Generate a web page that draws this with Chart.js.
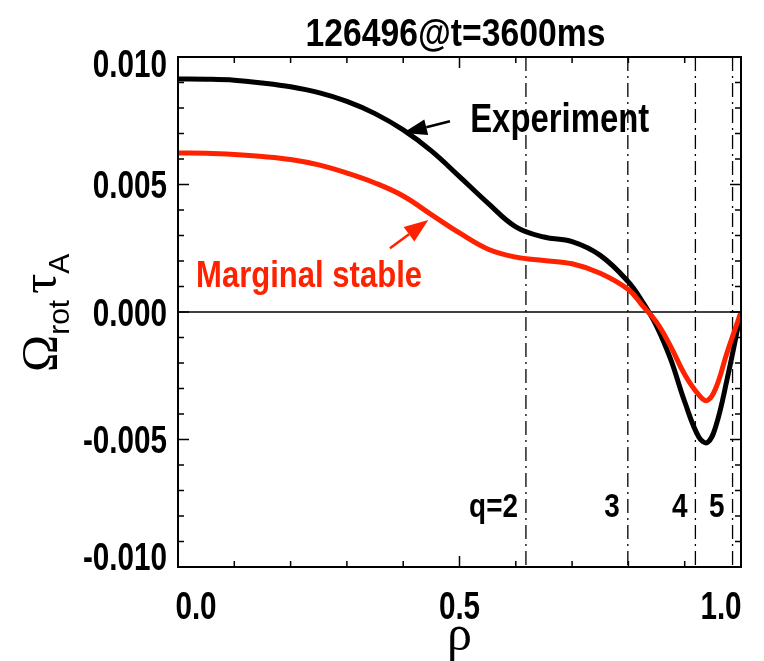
<!DOCTYPE html>
<html>
<head>
<meta charset="utf-8">
<script src="https://cdn.jsdelivr.net/npm/chart.js@4/dist/chart.umd.min.js"></script>
<style>
html,body{margin:0;padding:0;background:#fff;}
#wrap{width:764px;height:661px;position:relative;}
</style>
</head>
<body>
<div id="wrap"><canvas id="c" width="764" height="661"></canvas></div>
<script>
// ---- data ----
const rho = [0.00, 0.05, 0.10, 0.15, 0.20, 0.25, 0.30, 0.35, 0.40, 0.45, 0.50, 0.55, 0.60, 0.65, 0.70, 0.75, 0.80, 0.825, 0.85, 0.875, 0.90, 0.925, 0.94, 0.955, 0.975, 1.00];
const experiment = [0.00914, 0.00913, 0.00909, 0.00898, 0.00883, 0.00860, 0.00826, 0.00778, 0.00714, 0.00632, 0.00531, 0.00428, 0.00334, 0.00294, 0.00276, 0.00222, 0.00118, 0.00040, -0.00055, -0.00185, -0.00352, -0.00490, -0.00512, -0.00450, -0.00267, 0.00000];
const marginal = [0.00624, 0.00623, 0.00618, 0.00610, 0.00598, 0.00577, 0.00545, 0.00506, 0.00455, 0.00382, 0.00310, 0.00247, 0.00215, 0.00202, 0.00189, 0.00152, 0.00088, 0.00025, -0.00040, -0.00135, -0.00245, -0.00325, -0.00347, -0.00300, -0.00161, 0.00000];
const qRho = [0.618, 0.799, 0.919, 0.985];
const qLabels = ['q=2', '3', '4', '5'];
const yTicks = [-0.010, -0.005, 0.000, 0.005, 0.010];
const yTickLabels = ['-0.010', '-0.005', '0.000', '0.005', '0.010'];
const xTicks = [0.0, 0.5, 1.0];
const xTickLabels = ['0.0', '0.5', '1.0'];
const title = '126496@t=3600ms';

const RED = 'rgb(255,34,0)';
const SANS = '"Liberation Sans", Arial, Helvetica, sans-serif';
const SERIF = '"Liberation Serif", "Times New Roman", serif';

// draw text compressed horizontally by sx (or to a target width if tw given)
function txt(ctx, s, x, y, font, color, align, sx, tw) {
  ctx.save();
  ctx.font = font; ctx.fillStyle = color; ctx.textAlign = 'left'; ctx.textBaseline = 'alphabetic';
  const raw = ctx.measureText(s).width;
  if (tw) sx = tw / raw;
  const w = raw * sx;
  const x0 = align === 'center' ? x - w / 2 : (align === 'right' ? x - w : x);
  ctx.translate(x0, y); ctx.scale(sx, 1); ctx.fillText(s, 0, 0);
  ctx.restore();
  return w;
}
function arrow(ctx, x1, y1, x2, y2, color, len, half) {
  const ang = Math.atan2(y2 - y1, x2 - x1);
  ctx.save();
  ctx.strokeStyle = color; ctx.fillStyle = color; ctx.lineWidth = 2.5;
  const bx = x2 - len * Math.cos(ang), by = y2 - len * Math.sin(ang);
  ctx.beginPath(); ctx.moveTo(x1, y1); ctx.lineTo(bx, by); ctx.stroke();
  ctx.beginPath();
  ctx.moveTo(x2, y2);
  ctx.lineTo(bx + half * Math.sin(ang), by - half * Math.cos(ang));
  ctx.lineTo(bx - half * Math.sin(ang), by + half * Math.cos(ang));
  ctx.closePath(); ctx.fill();
  ctx.restore();
}

const idl = {
  id: 'idl',
  beforeDatasetsDraw(chart) {
    const {ctx, chartArea: a, scales: {x, y}} = chart;
    ctx.save();
    ctx.strokeStyle = '#000';
    ctx.lineWidth = 1.5;
    const y0 = y.getPixelForValue(0);
    ctx.beginPath(); ctx.moveTo(a.left, y0); ctx.lineTo(a.right, y0); ctx.stroke();
    ctx.lineWidth = 1.3;
    ctx.setLineDash([14, 5, 2, 5]);
    qRho.forEach(r => {
      const px = x.getPixelForValue(r);
      ctx.beginPath(); ctx.moveTo(px, a.top); ctx.lineTo(px, a.bottom); ctx.stroke();
    });
    ctx.restore();
  },
  afterDatasetsDraw(chart) {
    const {ctx, chartArea: a, scales: {x, y}} = chart;
    ctx.save();
    ctx.strokeStyle = '#000'; ctx.lineWidth = 2;
    ctx.strokeRect(a.left, a.top, a.right - a.left, a.bottom - a.top);
    ctx.lineWidth = 1.5;
    for (let i = -10; i <= 10; i++) {
      const v = i / 1000, py = y.getPixelForValue(v);
      const L = (i % 5 === 0) ? 11 : 6;
      ctx.beginPath();
      ctx.moveTo(a.left, py); ctx.lineTo(a.left + L, py);
      ctx.moveTo(a.right, py); ctx.lineTo(a.right - L, py);
      ctx.stroke();
    }
    for (let i = 0; i <= 10; i++) {
      const v = i / 10, px = x.getPixelForValue(v);
      const L = (i % 5 === 0) ? 11 : 6;
      ctx.beginPath();
      ctx.moveTo(px, a.bottom); ctx.lineTo(px, a.bottom - L);
      ctx.moveTo(px, a.top); ctx.lineTo(px, a.top + L);
      ctx.stroke();
    }
    ctx.restore();

    const tickFont = 'bold 38px ' + SANS;
    yTicks.forEach((v, i) => {
      let py = y.getPixelForValue(v);
      py = Math.min(Math.max(py, a.top + 6), a.bottom - 11);
      txt(ctx, yTickLabels[i], a.left - 11, py + 13.5, tickFont, '#000', 'right', 0.78);
    });
    xTicks.forEach((v, i) => {
      let px = x.getPixelForValue(v);
      px = Math.min(Math.max(px, a.left + 18), a.right - 20);
      txt(ctx, xTickLabels[i], px, a.bottom + 52, tickFont, '#000', 'center', 0.78);
    });

    // title
    txt(ctx, title, (a.left + a.right) / 2 - 4, 46, 'bold 38px ' + SANS, '#000', 'center', 1, 300);

    // axis titles
    txt(ctx, '\u03C1', (a.left + a.right) / 2, 650, '50px ' + SERIF, '#000', 'center', 1);
    ctx.save();
    ctx.translate(56, 372);
    ctx.rotate(-Math.PI / 2);
    ctx.fillStyle = '#000';
    ctx.font = '50px ' + SERIF;
    let cx = 0;
    ctx.fillText('\u03A9', cx, 0); cx += ctx.measureText('\u03A9').width;
    ctx.font = '30px ' + SANS;
    ctx.fillText('rot', cx, 13); cx += ctx.measureText('rot').width + 6;
    ctx.font = '50px ' + SERIF;
    ctx.fillText('\u03C4', cx, 0); cx += ctx.measureText('\u03C4').width;
    ctx.font = '30px ' + SANS;
    ctx.fillText('A', cx, 13);
    ctx.restore();

    qRho.forEach((r, i) => {
      const px = x.getPixelForValue(r) - 8;
      txt(ctx, qLabels[i], px, y.getPixelForValue(-0.00804), 'bold 34px ' + SANS, '#000', 'right', 0.82);
    });

    txt(ctx, 'Experiment', x.getPixelForValue(0.519), y.getPixelForValue(0.00705), 'bold 40px ' + SANS, '#000', 'left', 1, 179);
    arrow(ctx, x.getPixelForValue(0.483), y.getPixelForValue(0.00748), x.getPixelForValue(0.3996), y.getPixelForValue(0.00702), '#000', 24, 8);
    txt(ctx, 'Marginal stable', x.getPixelForValue(0.032), y.getPixelForValue(0.00098), 'bold 36px ' + SANS, RED, 'left', 1, 226);
    arrow(ctx, x.getPixelForValue(0.3765), y.getPixelForValue(0.00250), x.getPixelForValue(0.4446), y.getPixelForValue(0.00361), RED, 24, 9);
  }
};

new Chart(document.getElementById('c'), {
  type: 'line',
  data: {
    datasets: [
      {label: 'Marginal stable', data: rho.map((r, i) => ({x: r, y: marginal[i]})), borderColor: RED, borderWidth: 5, pointRadius: 0, tension: 0.4, fill: false, order: 0},
      {label: 'Experiment', data: rho.map((r, i) => ({x: r, y: experiment[i]})), borderColor: '#000', borderWidth: 5, pointRadius: 0, tension: 0.4, fill: false, order: 1}
    ]
  },
  options: {
    responsive: false,
    animation: false,
    devicePixelRatio: 1,
    layout: {padding: {left: 178, right: 23, top: 57, bottom: 94}},
    scales: {
      x: {type: 'linear', min: 0, max: 1.0, display: false},
      y: {type: 'linear', min: -0.010, max: 0.010, display: false}
    },
    plugins: {legend: {display: false}, tooltip: {enabled: false}, title: {display: false}}
  },
  plugins: [idl]
});
</script>
</body>
</html>
